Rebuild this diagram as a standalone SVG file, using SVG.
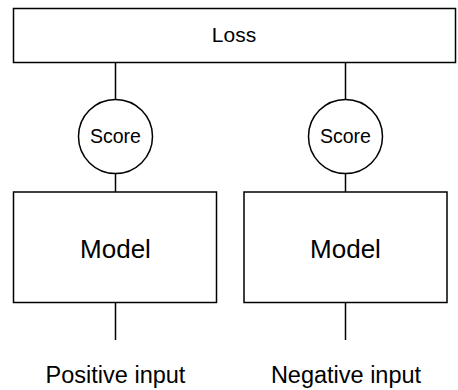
<svg xmlns="http://www.w3.org/2000/svg" width="458" height="390" viewBox="0 0 458 390">
<style>
.box{fill:#fff;stroke:#000;stroke-width:1.5}
.ln{stroke:#000;stroke-width:1.5;fill:none}
text{font-family:"Liberation Sans",Arial,sans-serif;fill:#000;text-anchor:middle}
</style>
<rect width="458" height="390" fill="#fff"/>
<g id="connectors">
<line class="ln" x1="115.5" y1="63" x2="115.5" y2="100"/>
<line class="ln" x1="345.5" y1="63" x2="345.5" y2="100"/>
<line class="ln" x1="115.5" y1="173" x2="115.5" y2="192"/>
<line class="ln" x1="345.5" y1="173" x2="345.5" y2="192"/>
<line class="ln" x1="115.5" y1="302" x2="115.5" y2="340"/>
<line class="ln" x1="345.5" y1="302" x2="345.5" y2="340"/>
</g>
<g id="loss">
<rect class="box" x="13.5" y="8.5" width="442" height="54"/>
<text x="234" y="42" font-size="21">Loss</text>
</g>
<g id="score-pos">
<circle class="box" cx="115.5" cy="136.5" r="37"/>
<text x="115.5" y="143" font-size="19.5">Score</text>
</g>
<g id="score-neg">
<circle class="box" cx="345.5" cy="136.5" r="37"/>
<text x="345.5" y="143" font-size="19.5">Score</text>
</g>
<g id="model-pos">
<rect class="box" x="13.5" y="192" width="203" height="110.5"/>
<text x="115.5" y="258" font-size="26">Model</text>
</g>
<g id="model-neg">
<rect class="box" x="244" y="192" width="203" height="110.5"/>
<text x="345.5" y="258" font-size="26">Model</text>
</g>
<g id="positive-input">
<text x="115.5" y="383" font-size="23.5">Positive input</text>
</g>
<g id="negative-input">
<text x="346" y="383" font-size="23.5">Negative input</text>
</g>
</svg>
